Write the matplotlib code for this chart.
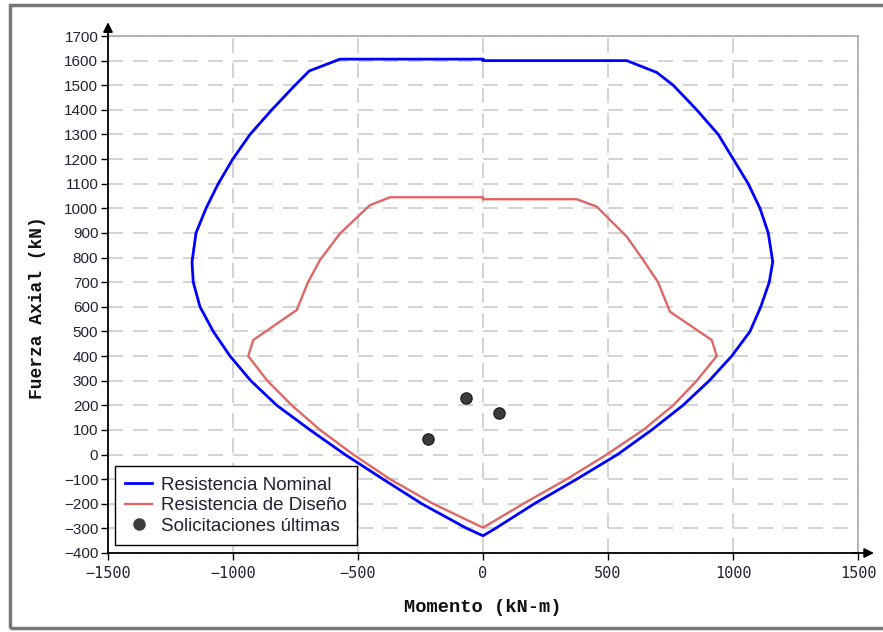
import numpy as np
import matplotlib
matplotlib.use("Agg")
from matplotlib import pyplot as plt
from matplotlib.patches import Rectangle
from matplotlib.lines import Line2D

# Nominal interaction curve (kN-m, kN)
nom_m = [0, -572, -695, -752, -845, -932, -1001, -1059, -1108, -1148, -1164,
         -1159, -1132, -1079, -1012, -929, -825, -692, -552, -400, -245, -65, 0,
         50, 205, 375, 538, 675, 800, 905, 995, 1068, 1111, 1145, 1159,
         1141, 1108, 1061, 1001, 941, 855, 761, 695, 575, 0]
nom_p = [1606, 1606, 1558, 1500, 1400, 1300, 1200, 1100, 1000, 900, 782,
         700, 600, 500, 400, 300, 200, 100, 0, -100, -200, -300, -330,
         -300, -200, -100, 0, 100, 200, 300, 400, 500, 600, 700, 783,
         900, 1000, 1100, 1200, 1300, 1400, 1500, 1552, 1600, 1600]

# Design interaction curve
dis_m = [0, -372, -452, -572, -652, -700, -745, -919, -939, -863, -765, -652,
         -519, -372, -199, 0, 161, 335, 495, 641, 761, 855, 935, 915, 748,
         700, 641, 575, 455, 375, 0]
dis_p = [1045, 1045, 1013, 898, 790, 700, 587, 465, 400, 300, 200, 100,
         0, -100, -200, -297, -200, -100, 0, 100, 200, 300, 400, 465, 580,
         700, 790, 885, 1007, 1037, 1037]

# Factored loads
sol_m = [-68, 65, -221]
sol_p = [231, 170, 62]

fig = plt.figure(figsize=(8.83, 6.32), dpi=100)
ax = fig.add_axes([108/883, 79/632, 750/883, 517/632])

ax.plot(nom_m, nom_p, color="#0000ff", lw=2.0, zorder=3, solid_joinstyle="round")
ax.plot(dis_m, dis_p, color="#e06666", lw=1.7, zorder=3, solid_joinstyle="round")
ax.scatter(sol_m, sol_p, s=65, color="#3c3c3c", edgecolor="#222222", zorder=4)

ax.set_xlim(-1500, 1500)
ax.set_ylim(-400, 1700)
ax.set_xticks(np.arange(-1500, 1501, 500))
ax.set_yticks(np.arange(-400, 1701, 100))

ax.grid(True, color="#cccccc", linestyle=(0, (9, 6)), lw=1.2)
ax.set_axisbelow(True)

for s in ["top", "right"]:
    ax.spines[s].set_color("#aaaaaa")
    ax.spines[s].set_linewidth(1.2)
for s in ["left", "bottom"]:
    ax.spines[s].set_color("black")
    ax.spines[s].set_linewidth(1.3)

ax.tick_params(axis="both", direction="out", length=5, width=1, color="black")
ax.tick_params(axis="y", pad=2)
ax.tick_params(axis="x", pad=4)
for lab in ax.get_yticklabels():
    lab.set_family("Liberation Sans")
    lab.set_fontsize(11)
    lab.set_color("#222233")
for lab in ax.get_xticklabels():
    lab.set_family("DejaVu Sans Mono")
    lab.set_fontsize(11)
    lab.set_color("#222233")

# arrow heads on axes
ax.annotate("", xy=(0, 1.032), xytext=(0, 0.99), xycoords="axes fraction",
            arrowprops=dict(arrowstyle="-|>", color="black", lw=1.3, mutation_scale=14))
ax.annotate("", xy=(1.025, 0), xytext=(0.99, 0), xycoords="axes fraction",
            arrowprops=dict(arrowstyle="-|>", color="black", lw=1.3, mutation_scale=14))

ax.set_xlabel("Momento (kN-m)", family="Liberation Mono", weight="bold", fontsize=13.5,
              labelpad=13, color="#111111")
ax.set_ylabel("Fuerza Axial (kN)", family="Liberation Mono", weight="bold", fontsize=13,
              color="#111111")
ax.yaxis.set_label_coords(-0.083, 0.474)

handles = [Line2D([], [], color="#0000ff", lw=2.0),
           Line2D([], [], color="#e06666", lw=1.7),
           Line2D([], [], color="#3c3c3c", marker="o", ls="none", markersize=8)]
leg = ax.legend(handles, ["Resistencia Nominal", "Resistencia de Diseño",
                          "Solicitaciones últimas"],
                loc="lower left", bbox_to_anchor=(0.009, 0.015), fancybox=False,
                edgecolor="black", framealpha=1, borderaxespad=0,
                prop={"family": "Liberation Sans", "size": 13.5},
                handlelength=1.45, handletextpad=0.45, labelspacing=0.18,
                borderpad=0.55)
leg.get_frame().set_linewidth(1.0)
for t in leg.get_texts():
    t.set_color("#222233")

# outer frame
fig.patches.append(Rectangle((10/883, 4/632), 1.0, 623/632, transform=fig.transFigure,
                             fill=False, edgecolor="#777777", lw=2.5))

fig.savefig("out.png", dpi=100)
